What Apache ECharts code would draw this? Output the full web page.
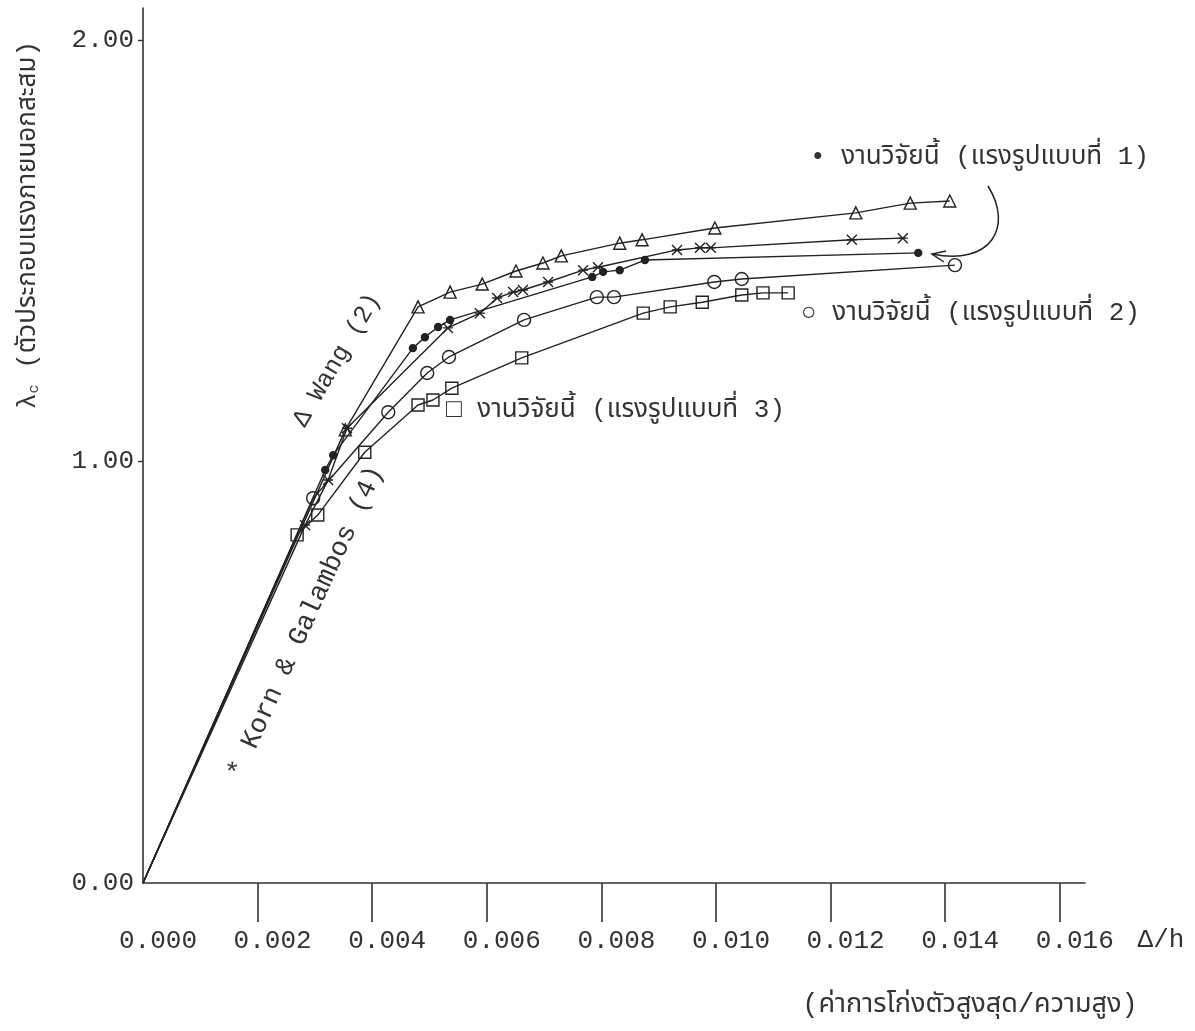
<!DOCTYPE html>
<html><head><meta charset="utf-8">
<script src="https://cdn.jsdelivr.net/npm/echarts@6/dist/echarts.min.js"></script>
<style>html,body{margin:0;padding:0;background:#fff}#c{width:1195px;height:1031px}</style>
</head><body><div id="c"></div>
<script>
// Tick values
const xTickLabels = [0, 0.002, 0.004, 0.006, 0.008, 0.010, 0.012, 0.014, 0.016];
const xTickMarks = [0.002, 0.004, 0.006, 0.008, 0.010, 0.012, 0.014, 0.016];
const yTickLabels = [0, 1, 2];
const yTickMarks = [1, 2];

// Series data [Δ/h, λc]
const wang = [[0,0],[0.00353,1.075],[0.00480,1.367],[0.00536,1.402],[0.00592,1.421],[0.00651,1.452],[0.00698,1.471],[0.00730,1.488],[0.00832,1.518],[0.00871,1.526],[0.00998,1.554],[0.01244,1.590],[0.01339,1.613],[0.01408,1.618]];
const korn = [[0,0],[0.00283,0.849],[0.00323,0.956],[0.00356,1.079],[0.00532,1.317],[0.00588,1.352],[0.00618,1.388],[0.00646,1.402],[0.00663,1.407],[0.00707,1.426],[0.00768,1.454],[0.00794,1.461],[0.00932,1.502],[0.00972,1.507],[0.00991,1.507],[0.01237,1.526],[0.01326,1.530]];
const case1 = [[0,0],[0.00318,0.980],[0.00332,1.015],[0.00471,1.269],[0.00492,1.295],[0.00515,1.319],[0.00536,1.336],[0.00784,1.438],[0.00803,1.450],[0.00832,1.454],[0.00876,1.478],[0.01353,1.495]];
const case2 = [[0,0],[0.00297,0.913],[0.00428,1.117],[0.00496,1.210],[0.00534,1.248],[0.00665,1.336],[0.00792,1.390],[0.00822,1.390],[0.00997,1.426],[0.01045,1.433],[0.01417,1.466]];
const case3 = [[0,0],[0.00269,0.826],[0.00305,0.873],[0.00387,1.022],[0.00480,1.134],[0.00506,1.146],[0.00539,1.174],[0.00661,1.246],[0.00873,1.352],[0.00920,1.367],[0.00976,1.378],[0.01045,1.395],[0.01082,1.400],[0.01126,1.400]];

const INK = '#222';
const MONO = "'Liberation Mono', 'DejaVu Sans Mono', monospace";
const THAI = "'Liberation Mono', 'Noto Sans Thai', 'Loma', 'Garuda', 'Norasi', 'Kinnari', sans-serif";
const asterisk = 'path://M0,0L10,10M10,0L0,10M0,5L10,5';

function mk(name, data, symbol, size, filled) {
  return {
    name: name, type: 'line', showAllSymbol: true, animation: false,
    data: data.map((p, i) => i === 0 ? {value: p, symbol: 'none'} : p),
    symbol: symbol, symbolSize: size,
    lineStyle: {color: INK, width: 1.4},
    itemStyle: {color: filled ? INK : 'rgba(0,0,0,0)', borderColor: INK, borderWidth: 1.4},
    z: 3
  };
}

const chart = echarts.init(document.getElementById('c'));
chart.setOption({
  backgroundColor: '#fff',
  animation: false,
  grid: {left: 143, top: 8, right: 110, bottom: 148},
  xAxis: {
    type: 'value', min: 0, max: 0.01644,
    axisLine: {lineStyle: {color: '#333', width: 1.6}},
    splitLine: {show: false},
    axisTick: {show: true, customValues: xTickMarks, length: 39, lineStyle: {color: '#333', width: 1.6}},
    axisLabel: {customValues: xTickLabels, margin: 45, color: '#333', fontFamily: MONO, fontSize: 26,
      padding: [0, 0, 0, 30], formatter: v => v.toFixed(3)}
  },
  yAxis: {
    type: 'value', min: 0, max: 2.076,
    axisLine: {show: true, lineStyle: {color: '#333', width: 1.6}},
    splitLine: {show: false},
    axisTick: {show: true, customValues: yTickMarks, length: 5, lineStyle: {color: '#333', width: 1.4}},
    axisLabel: {customValues: yTickLabels, margin: 9, color: '#333', fontFamily: MONO, fontSize: 26,
      formatter: v => v.toFixed(2)}
  },
  series: [
    mk('Wang (2)', wang, 'triangle', 12, false),
    mk('Korn & Galambos (4)', korn, asterisk, 10, false),
    mk('งานวิจัยนี้ (แรงรูปแบบที่ 1)', case1, 'circle', 7, true),
    mk('งานวิจัยนี้ (แรงรูปแบบที่ 2)', case2, 'circle', 13, false),
    mk('งานวิจัยนี้ (แรงรูปแบบที่ 3)', case3, 'rect', 12, false)
  ],
  graphic: [
    {type: 'text', x: 28, y: 225, rotation: Math.PI / 2, style: {
      text: '{l|λ}{s|c} (ตัวประกอบแรงภายนอกสะสม)', font: '26px ' + THAI, fill: '#333',
      textAlign: 'center', textVerticalAlign: 'middle',
      rich: {l: {fontSize: 26, fontFamily: MONO, fill: '#333'}, s: {fontSize: 15, fontFamily: MONO, fill: '#333', padding: [12, 0, 0, 0]}}}},
    {type: 'text', x: 810, y: 157, style: {text: '• งานวิจัยนี้ (แรงรูปแบบที่ 1)', font: '26px ' + THAI, fill: '#333', textVerticalAlign: 'middle'}},
    {type: 'text', x: 801, y: 313, style: {text: '○ งานวิจัยนี้ (แรงรูปแบบที่ 2)', font: '26px ' + THAI, fill: '#333', textVerticalAlign: 'middle'}},
    {type: 'text', x: 446, y: 410, style: {text: '□ งานวิจัยนี้ (แรงรูปแบบที่ 3)', font: '26px ' + THAI, fill: '#333', textVerticalAlign: 'middle'}},
    {type: 'text', x: 337, y: 360, rotation: 1.04, style: {text: 'Δ Wang (2)', font: '25px ' + MONO, fill: '#333', textAlign: 'center', textVerticalAlign: 'middle'}},
    {type: 'text', x: 306, y: 622, rotation: 1.143, style: {text: '* Korn & Galambos (4)', font: '27px ' + MONO, fill: '#333', textAlign: 'center', textVerticalAlign: 'middle'}},
    {type: 'text', x: 1161, y: 940, style: {text: 'Δ/h', font: '26px ' + MONO, fill: '#333', textAlign: 'center', textVerticalAlign: 'middle'}},
    {type: 'text', x: 970, y: 1005, style: {text: '(ค่าการโก่งตัวสูงสุด/ความสูง)', font: '27px ' + THAI, fill: '#333', textAlign: 'center', textVerticalAlign: 'middle'}},
    {type: 'bezierCurve', shape: {x1: 988, y1: 186, cpx1: 1014, cpy1: 228, cpx2: 990, cpy2: 266, x2: 932, y2: 254}, style: {stroke: INK, lineWidth: 1.5, fill: null}},
    {type: 'polyline', shape: {points: [[944, 262], [932, 254], [946, 251]]}, style: {stroke: INK, lineWidth: 1.5, fill: null}}
  ]
});
</script>
</body></html>
